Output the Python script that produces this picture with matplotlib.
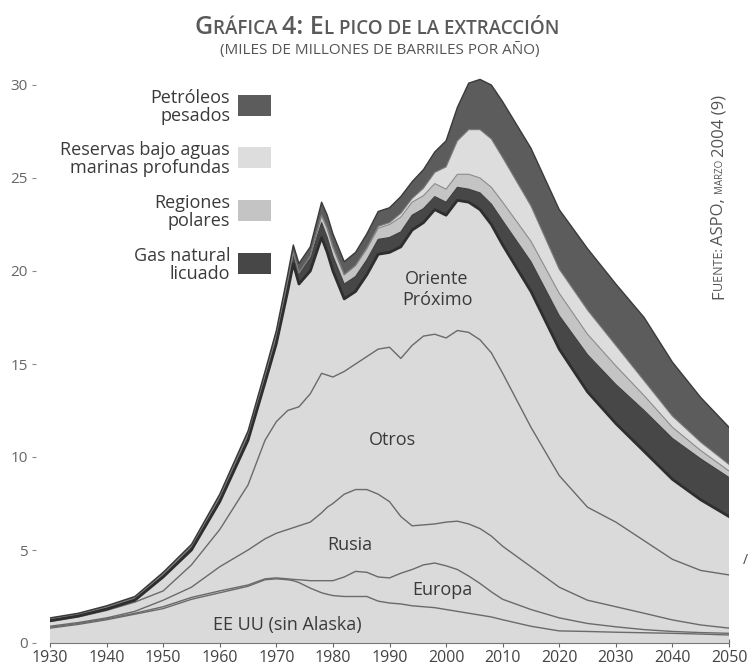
"""Gráfica 4: el pico de la extracción (ASPO, marzo 2004) -- stacked areas."""

import matplotlib
matplotlib.use("Agg")
import matplotlib.pyplot as plt
import numpy as np
from matplotlib.patches import Rectangle

plt.rcParams["font.family"] = ["Open Sans", "DejaVu Sans"]

# ---------------------------------------------------------------------------
# Data (thousand million barrels per year)
# ---------------------------------------------------------------------------

years = [1930, 1935, 1940, 1945, 1950, 1955, 1960, 1965, 1968, 1970,
         1972, 1973, 1974, 1976, 1978, 1979, 1980, 1982, 1984, 1986,
         1988, 1990, 1992, 1994, 1996, 1998, 2000, 2002, 2004, 2006,
         2008, 2010, 2015, 2020, 2025, 2030, 2035, 2040, 2045, 2050]

eeuu = [0.80, 1.00, 1.25, 1.55, 1.85, 2.35, 2.70, 3.05, 3.40, 3.45,
        3.40, 3.35, 3.25, 2.95, 2.70, 2.62, 2.55, 2.50, 2.50, 2.50,
        2.25, 2.15, 2.10, 2.00, 1.95, 1.90, 1.80, 1.70, 1.60, 1.50,
        1.40, 1.25, 0.90, 0.65, 0.62, 0.58, 0.55, 0.52, 0.48, 0.43]

europa = [0.05, 0.05, 0.05, 0.05, 0.10, 0.10, 0.10, 0.07, 0.05, 0.05,
          0.05, 0.07, 0.15, 0.40, 0.65, 0.73, 0.80, 1.05, 1.35, 1.30,
          1.30, 1.35, 1.65, 1.95, 2.25, 2.40, 2.35, 2.25, 2.00, 1.70,
          1.35, 1.10, 0.90, 0.70, 0.43, 0.29, 0.17, 0.10, 0.08, 0.09]

rusia = [0.05, 0.05, 0.05, 0.10, 0.35, 0.55, 1.30, 1.88, 2.15, 2.40,
         2.65, 2.78, 2.90, 3.15, 3.65, 3.95, 4.15, 4.45, 4.40, 4.45,
         4.45, 4.10, 3.05, 2.35, 2.15, 2.10, 2.35, 2.60, 2.80, 2.95,
         3.00, 2.85, 2.30, 1.65, 1.25, 1.08, 0.88, 0.62, 0.41, 0.28]

otros = [0.25, 0.30, 0.40, 0.50, 0.50, 1.20, 2.00, 3.50, 5.30, 6.00,
         6.40, 6.40, 6.40, 6.90, 7.50, 7.10, 6.80, 6.60, 6.75, 7.15,
         7.80, 8.30, 8.50, 9.70, 10.15, 10.20, 9.90, 10.25, 10.30, 10.15,
         9.85, 9.30, 7.50, 6.00, 5.00, 4.55, 3.90, 3.26, 2.93, 2.86]

oriente = [0.05, 0.05, 0.07, 0.10, 0.75, 0.80, 1.50, 2.40, 3.10, 4.20,
           6.40, 7.80, 6.60, 6.60, 7.30, 6.60, 5.70, 3.90, 3.90, 4.40,
           5.10, 5.10, 6.00, 6.20, 6.10, 6.70, 6.60, 7.00, 7.00, 7.00,
           6.90, 6.90, 7.30, 6.80, 6.20, 5.30, 4.80, 4.30, 3.80, 3.14]

gas_licuado = [0.08, 0.08, 0.10, 0.12, 0.15, 0.20, 0.25, 0.30, 0.35, 0.40,
               0.50, 0.60, 0.60, 0.70, 0.80, 0.80, 0.80, 0.80, 0.80, 0.80,
               0.80, 0.80, 0.80, 0.80, 0.75, 0.70, 0.70, 0.70, 0.70, 0.90,
               1.10, 1.30, 1.60, 1.80, 2.00, 2.10, 2.20, 2.20, 2.20, 2.10]

polares = [0, 0, 0, 0, 0, 0, 0, 0, 0, 0,
           0, 0, 0, 0.10, 0.40, 0.50, 0.50, 0.50, 0.60, 0.60,
           0.60, 0.70, 0.80, 0.70, 0.70, 0.70, 0.70, 0.70, 0.80, 0.80,
           0.90, 1.00, 1.10, 1.20, 1.10, 1.00, 0.80, 0.60, 0.45, 0.35]

aguas_profundas = [0, 0, 0, 0, 0, 0, 0, 0, 0, 0,
                   0, 0, 0, 0, 0, 0, 0, 0, 0, 0.05,
                   0.10, 0.10, 0.20, 0.20, 0.40, 0.60, 1.20, 1.80, 2.40, 2.60,
                   2.60, 2.40, 1.90, 1.30, 1.30, 1.10, 0.80, 0.60, 0.45, 0.35]

pesados = [0.07, 0.07, 0.08, 0.08, 0.10, 0.10, 0.15, 0.20, 0.25, 0.30,
           0.40, 0.40, 0.50, 0.50, 0.70, 0.70, 0.70, 0.70, 0.70, 0.75,
           0.80, 0.80, 0.90, 0.90, 1.00, 1.10, 1.40, 1.80, 2.50, 2.70,
           2.90, 3.00, 3.10, 3.20, 3.30, 3.30, 3.40, 2.90, 2.40, 2.00]

year_ticks = list(range(1930, 2051, 10))
value_ticks = [0, 5, 10, 15, 20, 25, 30]

legend_labels = ["Petróleos\npesados",
                 "Reservas bajo aguas\nmarinas profundas",
                 "Regiones\npolares",
                 "Gas natural\nlicuado"]

# ---------------------------------------------------------------------------
# Style
# ---------------------------------------------------------------------------

W, H = 755, 672
CONV = "#dadada"
GNL = "#474747"
POLAR = "#c4c4c4"
DEEP = "#dddddd"
HEAVY = "#5c5c5c"
TEXT = "#3a3a3a"

fig = plt.figure(figsize=(W / 100, H / 100), dpi=100)
fig.patch.set_facecolor("white")
ax = fig.add_axes([50 / W, 29 / H, 679 / W, 576.6 / H])

layers = [eeuu, europa, rusia, otros, oriente,
          gas_licuado, polares, aguas_profundas, pesados]
colors = [CONV] * 5 + [GNL, POLAR, DEEP, HEAVY]
ax.stackplot(years, *layers, colors=colors, linewidth=0, zorder=2)

tops = np.cumsum(np.array(layers), axis=0)
for i in range(4):
    ax.plot(years, tops[i], color="#6a6a6a", lw=1.0, zorder=3)
ax.plot(years, tops[4], color="#2e2e2e", lw=2.0, zorder=4)
ax.plot(years, tops[5], color="#3c3c3c", lw=0.8, zorder=3)
ax.plot(years, tops[6], color="#8a8a8a", lw=0.8, zorder=3)
ax.plot(years, tops[7], color="#7a7a7a", lw=0.8, zorder=3)
ax.plot(years, tops[8], color="#3a3a3a", lw=1.0, zorder=3)

ax.set_xlim(1930, 2050)
ax.set_ylim(0, 31)
ax.set_xticks(year_ticks)
ax.set_yticks(value_ticks)
ax.tick_params(axis="x", direction="inout", length=6, width=0.8,
               color="#666666", labelsize=11.5, labelcolor="#444444", pad=2)
ax.tick_params(axis="y", direction="out", length=3, width=0.8,
               color="#888888", labelsize=11, labelcolor="#666666", pad=3)
for side in ("top", "right"):
    ax.spines[side].set_visible(False)
ax.spines["left"].set_visible(False)
ax.spines["left"].set_position(("outward", 10))
ax.spines["bottom"].set_color("#777777")
ax.spines["bottom"].set_linewidth(0.8)
ax.set_facecolor("none")

# region labels
ax.text(1972.0, 0.95, "EE UU (sin Alaska)", fontsize=13, color=TEXT,
        ha="center", va="center", zorder=6)
ax.text(1999.4, 2.85, "Europa", fontsize=13, color=TEXT,
        ha="center", va="center", zorder=6)
ax.text(1982.9, 5.25, "Rusia", fontsize=13, color=TEXT,
        ha="center", va="center", zorder=6)
ax.text(1990.6, 10.9, "Otros", fontsize=13, color=TEXT,
        ha="center", va="center", zorder=6)
ax.text(1998.4, 19.0, "Oriente\nPróximo", fontsize=13, color=TEXT,
        ha="center", va="center", linespacing=1.2, zorder=6)

# legend drawn by hand: labels right-aligned, swatch on the right
legend_colors = [HEAVY, DEEP, POLAR, GNL]
legend_tops = [95, 147, 200, 253]
for label, color, top in zip(legend_labels, legend_colors, legend_tops):
    fig.patches.append(Rectangle((238 / W, 1 - (top + 21) / H), 33 / W, 21 / H,
                                 transform=fig.transFigure, facecolor=color,
                                 edgecolor="none"))
    fig.text(230 / W, 1 - (top + 12) / H, label, fontsize=13, color=TEXT,
             ha="right", va="center", multialignment="right", linespacing=0.95)


def caps_text(x, y, parts, rotation=0, color="#555555", weight="normal"):
    """Place pieces of text of different sizes one after another (small caps).

    x, y are pixel positions measured from the top-left corner; the whole
    string is centred on y (rotated) or on x (horizontal), at baseline.
    """
    renderer = fig.canvas.get_renderer()
    pieces = []
    for s, size in parts:
        t = fig.text(0, 0, s, fontsize=size, color=color, weight=weight,
                     ha="left", va="baseline", rotation_mode="anchor")
        pieces.append((t, t.get_window_extent(renderer).width))
    total = sum(w for _, w in pieces)
    pos = -total / 2
    for t, w in pieces:
        if rotation == 0:
            t.set_position(((x + pos) / W, 1 - y / H))
        else:
            t.set_rotation(90)
            t.set_position((x / W, 1 - (y - pos) / H))
        pos += w


caps_text(377, 34, [("G", 18), ("RÁFICA ", 13.5), ("4: E", 18),
                    ("L PICO DE LA EXTRACCIÓN", 13.5)],
          color="#5a5a5a", weight="semibold")
fig.text(380 / W, 1 - 50 / H, "(MILES DE MILLONES DE BARRILES POR AÑO)",
         fontsize=11, color="#555555", ha="center", va="center")
caps_text(723, 197, [("F", 12), ("UENTE: ", 9), ("ASPO, ", 12),
                     ("MARZO ", 7), ("2004 (9)", 12)],
          rotation=90, color="#555555")
fig.text(745 / W, 1 - 560 / H, "/", fontsize=10, color="#444444",
         ha="center", va="center")

fig.savefig("out.png", dpi=100, facecolor="white")
plt.close(fig)
